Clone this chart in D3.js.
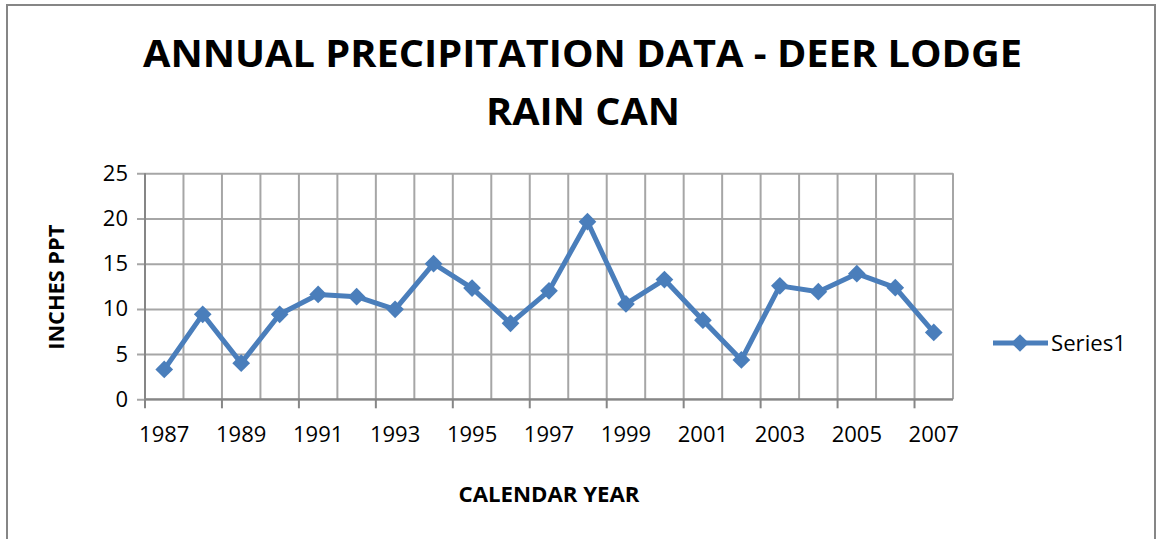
<!DOCTYPE html>
<html>
<head>
<meta charset="utf-8">
<script src="https://cdn.jsdelivr.net/npm/d3@7"></script>
<style>
  body { margin: 0; background: #fff; }
  svg { display: block; }
  text { font-family: "Open Sans", "Noto Sans", sans-serif; fill: #000; }
</style>
</head>
<body>
<div id="chart"></div>
<script>
// data
const years = [1987, 1988, 1989, 1990, 1991, 1992, 1993, 1994, 1995, 1996, 1997,
               1998, 1999, 2000, 2001, 2002, 2003, 2004, 2005, 2006, 2007];
const inches = [3.3, 9.4, 4.0, 9.4, 11.6, 11.35, 9.95, 15.0, 12.3, 8.4, 12.0,
                19.65, 10.55, 13.25, 8.75, 4.35, 12.55, 11.9, 13.9, 12.35, 7.4];
const yTicks = [0, 5, 10, 15, 20, 25];
const xLabelYears = [1987, 1989, 1991, 1993, 1995, 1997, 1999, 2001, 2003, 2005, 2007];

const width = 1160, height = 539;
const blue = '#4a7ebb';
const grid = '#a6a6a6';

const svg = d3.select('#chart').append('svg')
  .attr('width', width)
  .attr('height', height);

// outer chart border
svg.append('rect')
  .attr('x', 7).attr('y', 5)
  .attr('width', 1148).attr('height', 560)
  .attr('fill', '#fff')
  .attr('stroke', '#868686')
  .attr('stroke-width', 2);

// title
svg.append('text')
  .attr('x', 582.5).attr('y', 67)
  .attr('text-anchor', 'middle')
  .style('font-size', '38px').style('font-weight', 700)
  .attr('textLength', 879).attr('lengthAdjust', 'spacingAndGlyphs')
  .text('ANNUAL PRECIPITATION DATA - DEER LODGE');
svg.append('text')
  .attr('x', 583).attr('y', 125)
  .attr('text-anchor', 'middle')
  .style('font-size', '38px').style('font-weight', 700)
  .attr('textLength', 194).attr('lengthAdjust', 'spacingAndGlyphs')
  .text('RAIN CAN');

const plot = { left: 145, right: 953, top: 173.3, bottom: 399.3 };

const x = d3.scaleBand()
  .domain(years)
  .range([plot.left, plot.right])
  .padding(0);

const y = d3.scaleLinear()
  .domain([0, 25])
  .range([plot.bottom, plot.top]);

// horizontal gridlines + y axis
const yAxis = svg.append('g')
  .attr('transform', `translate(${plot.left},0)`)
  .call(d3.axisLeft(y).tickValues(yTicks).tickSize(-(plot.right - plot.left)).tickPadding(17));
yAxis.select('.domain').remove();
yAxis.selectAll('.tick line')
  .attr('x1', -8)
  .attr('stroke', grid).attr('stroke-width', 2);
yAxis.selectAll('.tick text')
  .style('font-size', '22px')
  .style('font-family', '"Open Sans", sans-serif');

// vertical gridlines at category boundaries
const bounds = years.map(d => x(d)).concat([plot.right]);
svg.append('g').selectAll('line')
  .data(bounds)
  .join('line')
  .attr('x1', d => d).attr('x2', d => d)
  .attr('y1', plot.top).attr('y2', plot.bottom)
  .attr('stroke', grid).attr('stroke-width', 2);

// x axis labels at category centres
const xAxis = svg.append('g')
  .attr('transform', `translate(0,${plot.bottom})`)
  .call(d3.axisBottom(x).tickValues(xLabelYears).tickSize(0).tickPadding(27));
xAxis.select('.domain').remove();
xAxis.selectAll('.tick text')
  .style('font-size', '22px')
  .style('font-family', '"Open Sans", sans-serif');

// x axis line and tick marks every other boundary
svg.append('line')
  .attr('x1', plot.left).attr('x2', plot.right)
  .attr('y1', plot.bottom).attr('y2', plot.bottom)
  .attr('stroke', '#868686').attr('stroke-width', 2);
svg.append('line')
  .attr('x1', plot.left).attr('x2', plot.left)
  .attr('y1', plot.top).attr('y2', plot.bottom)
  .attr('stroke', '#868686').attr('stroke-width', 2);
svg.append('g').selectAll('line')
  .data(bounds.filter((d, i) => i % 2 === 0))
  .join('line')
  .attr('x1', d => d).attr('x2', d => d)
  .attr('y1', plot.bottom).attr('y2', plot.bottom + 9)
  .attr('stroke', '#868686').attr('stroke-width', 2);

// axis titles
svg.append('text')
  .attr('transform', `translate(64,${(plot.top + plot.bottom) / 2 + 1}) rotate(-90)`)
  .attr('text-anchor', 'middle')
  .style('font-size', '21px').style('font-weight', 700)
  .attr('textLength', 125).attr('lengthAdjust', 'spacingAndGlyphs')
  .text('INCHES PPT');
svg.append('text')
  .attr('x', 549).attr('y', 502)
  .attr('text-anchor', 'middle')
  .style('font-size', '21px').style('font-weight', 700)
  .attr('textLength', 181).attr('lengthAdjust', 'spacingAndGlyphs')
  .text('CALENDAR YEAR');

// the series
const cx = d => x(d) + x.bandwidth() / 2;
const pts = years.map((yr, i) => [cx(yr), y(inches[i])]);

svg.append('path')
  .attr('d', d3.line()(pts))
  .attr('fill', 'none')
  .attr('stroke', blue)
  .attr('stroke-width', 5)
  .attr('stroke-linejoin', 'round');

const diamond = d3.symbol().type(d3.symbolDiamond2).size(200);
svg.append('g').selectAll('path')
  .data(pts)
  .join('path')
  .attr('transform', d => `translate(${d[0]},${d[1]})`)
  .attr('d', diamond)
  .attr('fill', blue);

// legend
svg.append('line')
  .attr('x1', 993).attr('x2', 1048)
  .attr('y1', 343).attr('y2', 343)
  .attr('stroke', blue).attr('stroke-width', 5);
svg.append('path')
  .attr('transform', 'translate(1020,343)')
  .attr('d', diamond)
  .attr('fill', blue);
svg.append('text')
  .attr('x', 1051).attr('y', 351)
  .style('font-size', '21px')
  .attr('textLength', 75).attr('lengthAdjust', 'spacingAndGlyphs')
  .text('Series1');
</script>
</body>
</html>
